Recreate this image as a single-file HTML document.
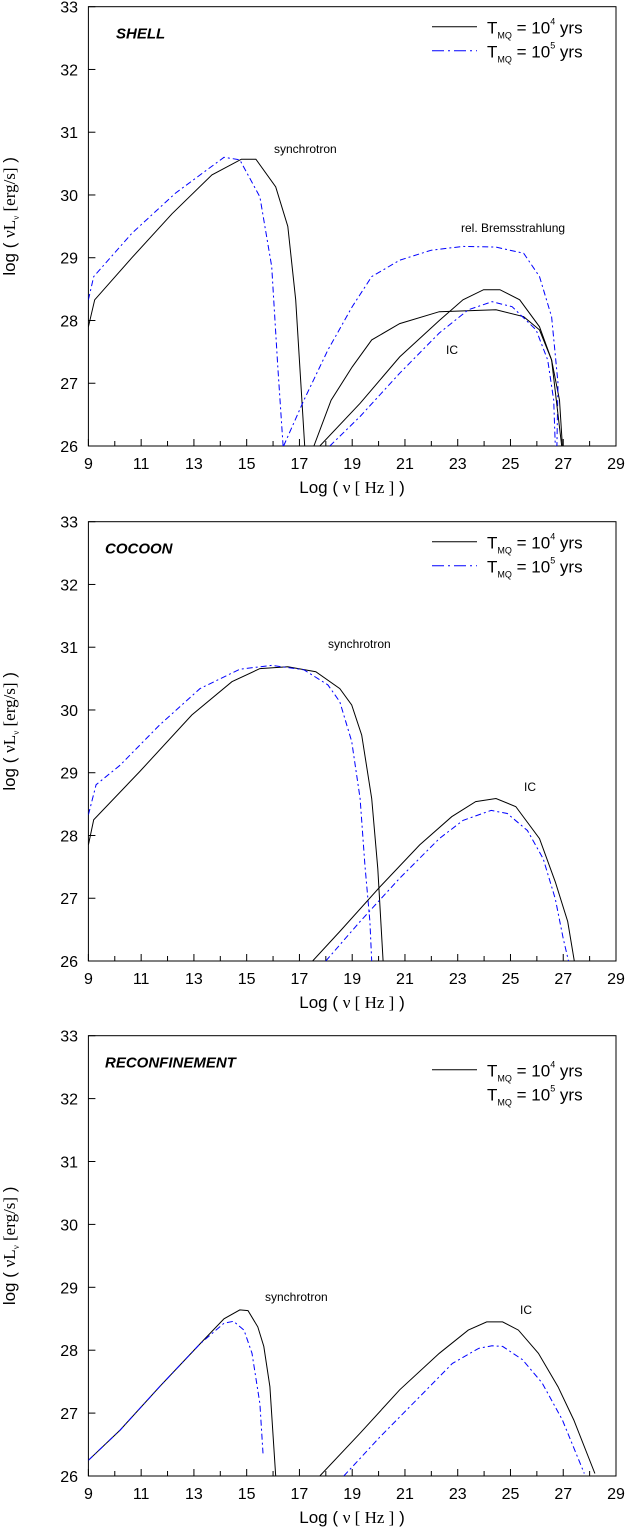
<!DOCTYPE html>
<html><head><meta charset="utf-8"><style>
body{margin:0;background:#fff;}
svg{display:block;font-family:"Liberation Sans",sans-serif;}
</style></head><body>
<svg id="chart" width="627" height="1528" viewBox="0 0 627 1528" xmlns="http://www.w3.org/2000/svg"></svg>
<script>
// Panel 1 (SHELL)
const shellSyncSolidX=[9,9.24,10.65,12.17,13.68,14.8,15.35,16.1,16.56,16.86,17.2];
const shellSyncSolidY=[27.9,28.33,29.0,29.7,30.32,30.57,30.57,30.13,29.5,28.33,26];
const shellSyncBlueX=[9,9.2,10.65,12.3,14.14,14.74,15.5,15.95,16.18,16.38];
const shellSyncBlueY=[28.33,28.7,29.39,30.03,30.6,30.56,29.97,28.86,27.26,26];
const shellBremSolidX=[17.55,18.2,19,19.74,20.8,22.3,24.45,25.5,26.1,26.56,26.86,26.97];
const shellBremSolidY=[26,26.73,27.26,27.69,27.95,28.14,28.17,28.06,27.85,27.37,26.73,26];
const shellBremBlueX=[16.4,17.17,18.08,19,19.74,20.8,22.0,23.2,24.45,25.5,26.1,26.56,26.8,26.76];
const shellBremBlueY=[26,26.73,27.53,28.22,28.7,28.96,29.12,29.18,29.17,29.07,28.7,28.06,27.0,26];
const shellICSolidX=[17.77,19.3,20.8,22.3,23.2,23.98,24.6,25.35,26.1,26.56,26.94];
const shellICSolidY=[26,26.68,27.42,28.0,28.33,28.49,28.49,28.33,27.9,27.37,26];
const shellICBlueX=[18.15,19.3,20.8,22.3,23.4,24.3,25.06,25.97,26.41,26.64,26.7];
const shellICBlueY=[26,26.47,27.16,27.8,28.17,28.3,28.22,27.85,27.37,26.73,26];
// Panel 2 (COCOON)
const cocSyncSolidX=[9,9.2,10.95,12.92,14.44,15.5,16.56,17.62,18.53,18.98,19.36,19.74,19.97,20.17];
const cocSyncSolidY=[27.85,28.25,29.02,29.92,30.45,30.66,30.69,30.61,30.34,30.08,29.6,28.59,27.47,26];
const cocSyncBlueX=[9,9.29,10.2,11.7,13.23,14.74,15.95,17.17,18.08,18.53,18.98,19.3,19.48,19.67,19.74];
const cocSyncBlueY=[28.33,28.81,29.12,29.76,30.34,30.65,30.71,30.64,30.4,30.13,29.5,28.59,27.53,26.63,26];
const cocICSolidX=[17.5,18.53,20.05,21.56,22.77,23.68,24.45,25.2,26.1,26.7,27.17,27.42];
const cocICSolidY=[26,26.47,27.18,27.85,28.3,28.54,28.59,28.46,27.95,27.26,26.63,26];
const cocICBlueX=[18.0,19.3,20.8,22.3,23.2,24.27,24.88,25.64,26.24,26.7,27.0,27.2];
const cocICBlueY=[26,26.63,27.32,27.95,28.24,28.4,28.35,28.08,27.63,26.99,26.36,26];
// Panel 3 (RECONFINEMENT)
const recSyncSolidX=[9,10.2,11.7,13.23,14.14,14.74,15.05,15.42,15.65,15.88,16.1];
const recSyncSolidY=[26.25,26.73,27.42,28.1,28.5,28.64,28.63,28.37,28.06,27.42,26];
const recSyncBlueX=[9,10.2,11.7,13.23,14.14,14.5,14.9,15.2,15.5,15.62];
const recSyncBlueY=[26.25,26.73,27.42,28.1,28.43,28.46,28.32,27.95,27.15,26.36];
const recICSolidX=[17.77,19.3,20.8,22.3,23.4,24.1,24.7,25.3,26.06,26.8,27.4,28.2];
const recICSolidY=[26,26.68,27.37,27.95,28.32,28.45,28.45,28.32,27.95,27.42,26.89,26.04];
const recICBlueX=[18.68,20.05,21.56,22.8,23.8,24.3,24.7,25.45,26.2,26.97,27.8];
const recICBlueY=[26,26.62,27.26,27.79,28.03,28.07,28.06,27.85,27.48,26.89,26.04];
const xTicks=[9,11,13,15,17,19,21,23,25,27,29];
const yTicks=[26,27,28,29,30,31,32,33];

const NS="http://www.w3.org/2000/svg";
const svg=document.getElementById('chart');
function mk(tag,attrs,parent){const e=document.createElementNS(NS,tag);for(const k in attrs)e.setAttribute(k,attrs[k]);(parent||svg).appendChild(e);return e;}
const X0=88.4,X1=616;
function sx(v){return X0+(v-9)/(29-9)*(X1-X0);}

const panels=[
 {top:6.7,bot:446,title:'SHELL',name:'shell',
  series:[[shellSyncSolidX,shellSyncSolidY,0],[shellSyncBlueX,shellSyncBlueY,1],[shellBremSolidX,shellBremSolidY,0],[shellBremBlueX,shellBremBlueY,1],[shellICSolidX,shellICSolidY,0],[shellICBlueX,shellICBlueY,1]],
  labels:[['synchrotron',274,153],['rel. Bremsstrahlung',461,232],['IC',446,354]],leg2line:true},
 {top:521.7,bot:961,title:'COCOON',name:'cocoon',
  series:[[cocSyncSolidX,cocSyncSolidY,0],[cocSyncBlueX,cocSyncBlueY,1],[cocICSolidX,cocICSolidY,0],[cocICBlueX,cocICBlueY,1]],
  labels:[['synchrotron',328,648],['IC',524,791]],leg2line:true},
 {top:1035.7,bot:1476,title:'RECONFINEMENT',name:'reconfinement',
  series:[[recSyncSolidX,recSyncSolidY,0],[recSyncBlueX,recSyncBlueY,1],[recICSolidX,recICSolidY,0],[recICBlueX,recICBlueY,1]],
  labels:[['synchrotron',265,1301],['IC',520,1314]],leg2line:false}
];
panels.forEach(p=>{
  const g=mk('g',{});
  
  
  const sy=v=>p.bot-(v-26)/7*(p.bot-p.top);
  const defs=mk('clipPath',{id:'c'+p.name},g);
  mk('rect',{x:X0,y:p.top,width:X1-X0,height:p.bot-p.top},defs);
  const frame=mk('rect',{x:X0,y:p.top,width:X1-X0,height:p.bot-p.top,fill:'none',stroke:'#000','stroke-width':1},g);
  
  
  for(let v=9;v<=29;v++){mk('line',{x1:sx(v),x2:sx(v),y1:p.bot,y2:p.bot-(v%2?7:5),stroke:'#000'},g);}
  xTicks.forEach(v=>{const t=mk('text',{x:sx(v),y:p.bot+23,'text-anchor':'middle','font-size':16},g);t.textContent=v;
    });
  yTicks.forEach(v=>{mk('line',{x1:X0,x2:X0+7,y1:sy(v),y2:sy(v),stroke:'#000'},g);
    const t=mk('text',{x:78,y:sy(v)+6,'text-anchor':'end','font-size':16},g);t.textContent=v;
    });
  const xt=mk('text',{x:352,y:p.bot+47,'text-anchor':'middle','font-size':17},g);
  xt.innerHTML='Log ( <tspan font-family="Liberation Serif">ν [ Hz ]</tspan> )';
  
  const cy=(p.top+p.bot)/2-10;
  const yt=mk('text',{x:0,y:0,'text-anchor':'middle','font-size':17,transform:`translate(15,${cy}) rotate(-90)`},g);
  yt.innerHTML='log ( <tspan font-family="Liberation Serif">νL<tspan font-size="9" dy="4">ν</tspan><tspan dy="-4"> [erg/s]</tspan></tspan> )';
  
  const tt=mk('text',{x:p.name==='shell'?116:105,y:p.top+32,'font-size':15,'font-weight':'bold','font-style':'italic'},g);
  tt.textContent=p.title;
  // legend
  const ly1=p.top+(p.name==='reconfinement'?34:20), ly2=ly1+24;
  mk('line',{x1:432,x2:477,y1:ly1,y2:ly1,stroke:'#000'},g);
  if(p.leg2line) mk('line',{x1:432,x2:477,y1:ly2,y2:ly2,stroke:'#00f','stroke-dasharray':'12 4 2 4'},g);
  [[ly1,'4'],[ly2,'5']].forEach(([ly,e])=>{
    const t=mk('text',{x:487,y:ly+7,'font-size':17},g);
    t.innerHTML=`T<tspan font-size="9" dy="5">MQ</tspan><tspan dy="-5"> = 10</tspan><tspan font-size="9" dy="-9">${e}</tspan><tspan dy="9"> yrs</tspan>`;
    
  });
  p.labels.forEach(([s,x,y])=>{const t=mk('text',{x:x,y:y,'font-size':12},g);t.textContent=s;
    });
  p.series.forEach(([xs,ys,blue])=>{
    const d=xs.map((v,i)=>(i?'L':'M')+sx(v).toFixed(1)+','+sy(ys[i]).toFixed(1)).join(' ');
    const path=mk('path',{d:d,fill:'none',stroke:blue?'#0000ff':'#000','stroke-width':1,'stroke-dasharray':blue?'6 3 2 3':'none','clip-path':`url(#c${p.name})`},g);
    
    
  });
});
</script>
</body></html>
